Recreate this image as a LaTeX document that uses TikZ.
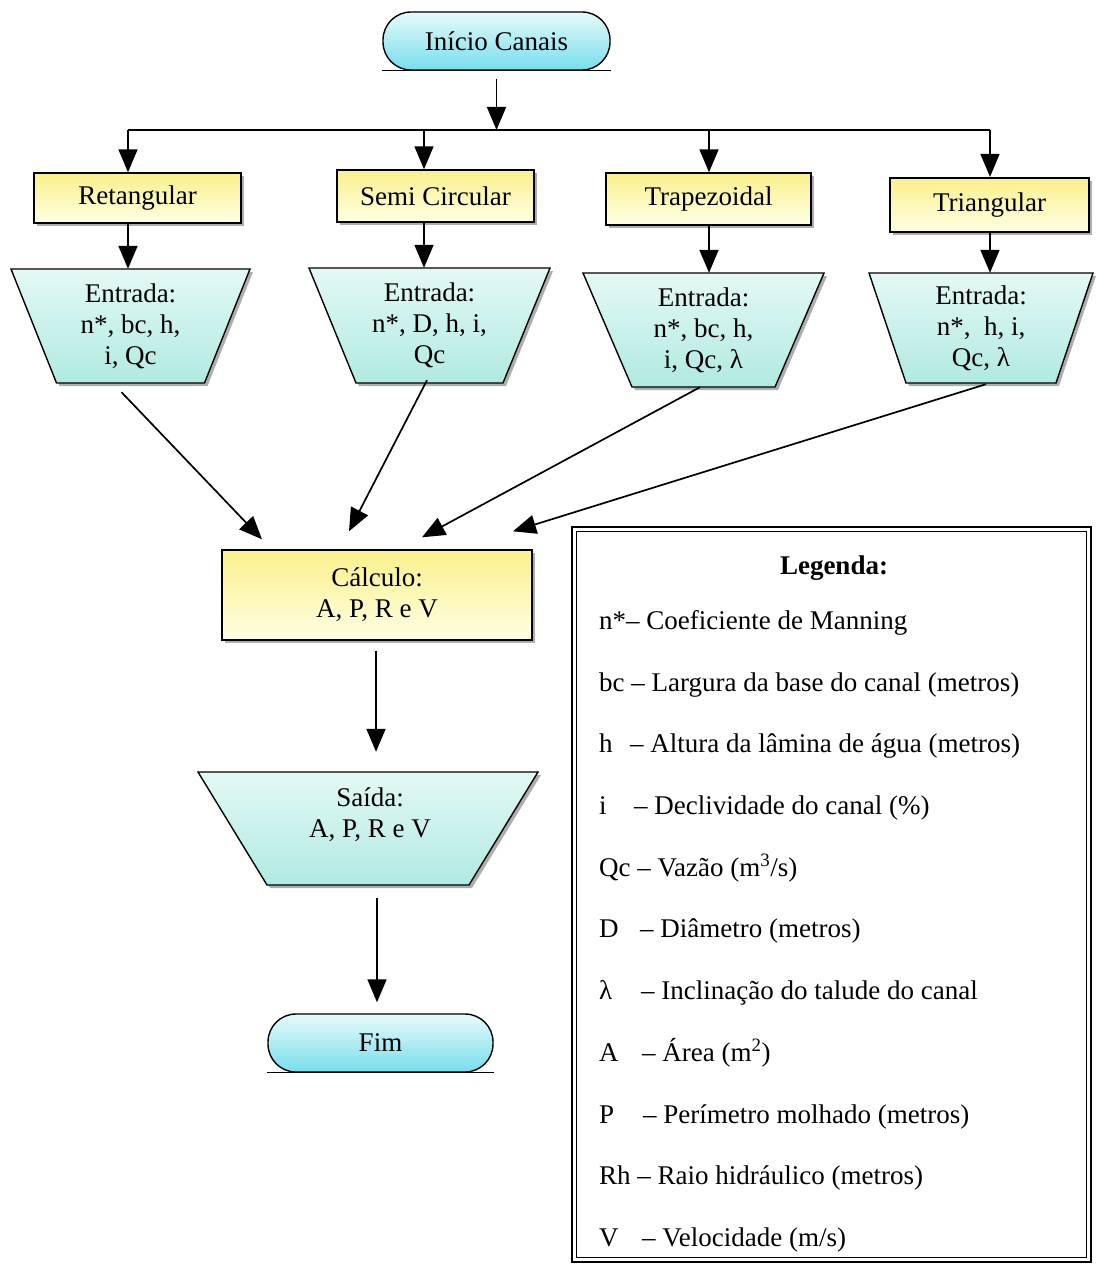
\documentclass[tikz,border=0pt]{standalone}
\usepackage{fontspec}
\setmainfont{Liberation Serif}
\usetikzlibrary{arrows.meta,shadows,calc}

\definecolor{ytop}{RGB}{250,240,140}
\definecolor{ybot}{RGB}{255,255,228}
\definecolor{ctop}{RGB}{230,251,251}
\definecolor{cbot}{RGB}{118,222,236}
\definecolor{ttop}{RGB}{228,249,245}
\definecolor{tbot}{RGB}{176,234,225}
\definecolor{shadowgray}{RGB}{140,140,140}

% trapezoid: name, centre x, centre y, top half-width, bottom half-width, half-height, text
\newcommand\trapbox[7]{%
  \path[trapfill] ({#2-#4},{#3-#6}) -- ({#2+#4},{#3-#6}) -- ({#2+#5},{#3+#6}) -- ({#2-#5},{#3+#6}) -- cycle;
  \node[trapnode, minimum width={2*#4}, minimum height={2*#6}] (#1) at (#2,#3) {#7};
}

\begin{document}
\begin{tikzpicture}[x=1pt,y=-1pt,
  every node/.style={font=\fontsize{27}{31}\selectfont},
  shad/.style={drop shadow={shadow xshift=3pt,shadow yshift=-3pt,fill=shadowgray,opacity=0.7}},
  proc/.style={draw=black, line width=1.4pt, top color=ytop, bottom color=ybot,
               inner sep=0pt, align=center, shad},
  term/.style={draw=black, line width=1.4pt, rounded corners=28pt, top color=ctop,
               bottom color=cbot, inner sep=0pt, minimum height=58pt},
  trapfill/.style={draw=black, line width=1.4pt, top color=ttop, bottom color=tbot, shad},
  trapnode/.style={inner sep=0pt, align=center},
  arr/.style={-{Triangle[length=23pt,width=19pt]}, line width=1.7pt},
  legtext/.style={anchor=base west, inner sep=0pt}
]
\useasboundingbox (0,0) rectangle (1095,1265);
\fill[white] (0,0) rectangle (1095,1265);

% start terminator
\node[term, minimum width=227pt] (start) at (496.5,41) {Início Canais};
\draw[line width=1.4pt] (start.south west) -- (start.south east);

% distribution line
\coordinate (b1) at (128,130);
\coordinate (b2) at (424,130);
\coordinate (b3) at (709,130);
\coordinate (b4) at (990,130);
\coordinate (hub) at (496.5,130);
\draw[line width=2pt] (b1) -- (b4);
\draw[arr] ($(start.south)+(0,8)$) -- (hub);

% channel types
\node[proc, minimum width=207pt, minimum height=50pt] (r1) at (137.5,198) {Retangular};
\node[proc, minimum width=197pt, minimum height=52pt] (r2) at (435.5,196) {Semi Circular};
\node[proc, minimum width=205pt, minimum height=52pt] (r3) at (708.5,199) {Trapezoidal};
\node[proc, minimum width=199pt, minimum height=54pt, line width=2.2pt] (r4) at (989.5,205) {Triangular};

\draw[arr] (b1) -- (b1 |- r1.north);
\draw[arr] (b2) -- (b2 |- r2.north);
\draw[arr] (b3) -- (b3 |- r3.north);
\draw[arr] (b4) -- (b4 |- r4.north);

% inputs
\trapbox{t1}{130.5}{326}{119.5}{74}{57}{Entrada:\\n*, bc, h,\\i, Qc}
\trapbox{t2}{429.5}{325.5}{120.5}{73.5}{57.5}{Entrada:\\n*, D, h, i,\\Qc}
\trapbox{t3}{703.5}{330}{120.5}{71.5}{57}{Entrada:\\n*, bc, h,\\i, Qc, λ}
\trapbox{t4}{981}{328}{112}{75}{55}{Entrada:\\n*,\ \ h, i,\\Qc, λ}

\draw[arr] (b1 |- r1.south) -- (b1 |- t1.north);
\draw[arr] (b2 |- r2.south) -- (b2 |- t2.north);
\draw[arr] (b3 |- r3.south) -- (b3 |- t3.north);
\draw[arr] (b4 |- r4.south) -- (b4 |- t4.north);

% calculation
\node[proc, minimum width=310pt, minimum height=90pt] (calc) at (377,595) {Cálculo:\\A, P, R e V};

\draw[arr] ($(t1.south)+(-9,9)$) -- ($(calc.north)+(-115,-10)$);
\draw[arr] ($(t2.south)+(-2.5,-3)$) -- ($(calc.north)+(-28,-18)$);
\draw[arr] ($(t3.south)+(-3.5,0)$) -- ($(calc.north)+(45,-12)$);
\draw[arr] ($(t4.south)+(5,1)$) -- ($(calc.north)+(136,-18)$);

% output
\trapbox{sa}{368}{828.5}{170}{101}{56.5}{}
\node[trapnode] (satxt) at (370,815) {Saída:\\A, P, R e V};
\draw[arr] ($(calc.south)+(-1,10)$) -- ($(calc.south |- sa.north)+(-1,-20)$);

% end terminator
\node[term, minimum width=225pt] (fim) at (380.5,1043) {Fim};
\draw[line width=1.4pt] (fim.south west) -- (fim.south east);
\draw[arr] ($(sa.south)+(9,13)$) -- ($(sa.south |- fim.north)+(9,-11)$);

% legend
\node[draw=black, line width=2.6pt, minimum width=519pt, minimum height=735pt, inner sep=0pt] (leg) at (831.5,894.5) {};
\draw[line width=1.2pt] ([xshift=6pt,yshift=-6pt]leg.north west) rectangle ([xshift=-6pt,yshift=6pt]leg.south east);
\node[anchor=base, inner sep=0pt] (legt) at (834,574) {\bfseries Legenda:};
\node[legtext] (l1)  at (599,629)  {n*– Coeficiente de Manning};
\node[legtext] (l2)  at (599,691)  {bc – Largura da base do canal (metros)};
\node[legtext] (l3)  at (599,752)  {\makebox[31pt][l]{h}– Altura da lâmina de água (metros)};
\node[legtext] (l4)  at (599,814)  {\makebox[35pt][l]{i}– Declividade do canal (\%)};
\node[legtext] (l5)  at (599,876)  {Qc – Vazão (m\textsuperscript{3}/s)};
\node[legtext] (l6)  at (599,937)  {\makebox[41pt][l]{D}– Diâmetro (metros)};
\node[legtext] (l7)  at (599,999)  {\makebox[42pt][l]{λ}– Inclinação do talude do canal};
\node[legtext] (l8)  at (599,1061) {\makebox[43pt][l]{A}– Área (m\textsuperscript{2})};
\node[legtext] (l9)  at (599,1123) {\makebox[44pt][l]{P}– Perímetro molhado (metros)};
\node[legtext] (l10) at (599,1184) {Rh – Raio hidráulico (metros)};
\node[legtext] (l11) at (599,1246) {\makebox[43pt][l]{V}– Velocidade (m/s)};
\end{tikzpicture}
\end{document}
